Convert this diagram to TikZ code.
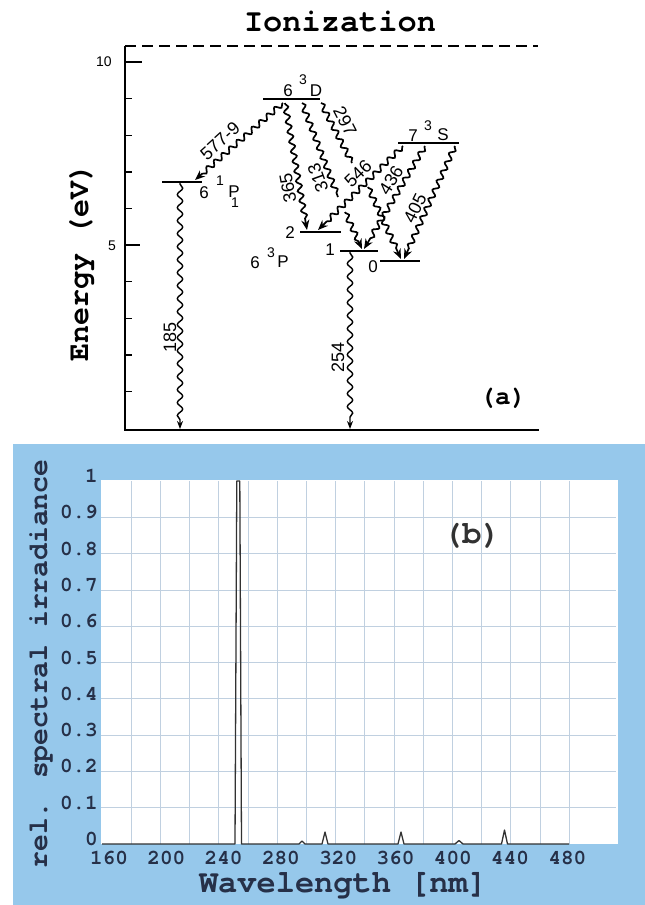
\documentclass[tikz,border=0pt]{standalone}
\usepackage{fontspec}
\setmainfont{Liberation Sans}
\IfFontExistsTF{texgyrecursor-bold.otf}{%
  \newfontfamily\monof{texgyrecursor}[Extension=.otf, UprightFont=*-regular, BoldFont=*-bold]%
}{%
  \newfontfamily\monof{Liberation Mono}%
}
\usetikzlibrary{decorations.pathmorphing,arrows.meta}
\definecolor{skyb}{RGB}{150,200,235}
\definecolor{gridc}{RGB}{192,208,224}
\definecolor{tickc}{RGB}{38,48,72}
\definecolor{specc}{RGB}{50,50,50}
\newcommand{\fsz}[1]{\fontsize{#1}{#1}\selectfont}
\tikzset{
  axisline/.style={line width=1.8pt, line cap=rect},
  levelline/.style={line width=1.9pt},
  wavy/.style={line width=1.7pt, decorate, decoration={snake, amplitude=2.6pt, segment length=10pt, pre length=1pt, post length=8pt}},
  wavyplain/.style={line width=1.7pt, decorate, decoration={snake, amplitude=2.6pt, segment length=10pt}},
  tip/.style={-{Stealth[length=10pt,width=8pt]}},
  lbl/.style={font=\fsz{18}, inner sep=0pt},
  lvl/.style={font=\fsz{17}, inner sep=0pt},
  sup/.style={font=\fsz{14}, inner sep=0pt},
  axn/.style={font=\fsz{14}, inner sep=0pt},
  monolbl/.style={font=\monof\bfseries\fsz{#1}, inner sep=0pt},
  ytk/.style={font=\monof\bfseries\fsz{21}, text=tickc, inner sep=0pt, anchor=east},
  xtk/.style={font=\monof\bfseries\fsz{21}, text=tickc, inner sep=0pt},
}
\begin{document}
\begin{tikzpicture}[x=1pt,y=-1pt]
\useasboundingbox (0,0) rectangle (645,905);
\fill[white] (0,0) rectangle (645,905);

% ================= Panel (a) =================
\node[monolbl=32] (ion) at (340,22) {Ionization};
\draw[line width=1.5pt, dash pattern=on 11pt off 6pt] (125,46) coordinate (ionl) -- (538,46) coordinate (ionr);
\draw[axisline] (125,47) coordinate (atop) -- (125,430) coordinate (aorig) -- (538,430) coordinate (aright);
\foreach \e in {1,2,3,4,6,7,8,9} {
  \draw[line width=1.4pt] (125,428-36.6*\e) -- (132,428-36.6*\e);
}
\draw[line width=1.4pt] (125,62) -- (142,62);
\draw[line width=1.4pt] (125,245) -- (140,245);
\node[axn] (t10) at (104,62) {10};
\node[axn] (t5) at (112,246) {5};
\node[monolbl=30, rotate=90] (ylab) at (82,262) {Energy (eV)};
\node[monolbl=26] (lab_a) at (503,398) {(a)};

% levels
\draw[levelline] (263,99) coordinate (Dl) -- (320,99) coordinate (Dr);
\draw[levelline] (398,143) coordinate (Sl) -- (459,143) coordinate (Sr);
\draw[levelline] (162,182) coordinate (P1sl) -- (202,182) coordinate (P1sr);
\draw[levelline] (300,232) coordinate (P2l) -- (341,232) coordinate (P2r);
\draw[levelline] (340,251) coordinate (P1l) -- (378,251) coordinate (P1r);
\draw[levelline] (380,261) coordinate (P0l) -- (420,261) coordinate (P0r);

% level labels
\node[lvl] (D6) at (288,91) {6};
\node[sup] (D3) at (303,80) {3};
\node[lvl] (DD) at (316,91) {D};
\node[lvl] (S7) at (413,136) {7};
\node[sup] (S3) at (428,126) {3};
\node[lvl] (SS) at (443,135) {S};
\node[lvl] (Ps6) at (204,193) {6};
\node[sup] (Ps1) at (220,181) {1};
\node[lvl] (PsP) at (234,192) {P};
\node[sup] (Psub) at (235,203) {1};
\node[lvl] (P6) at (255,263) {6};
\node[sup] (P3) at (271,253) {3};
\node[lvl] (PP) at (283,262) {P};
\node[lvl] (L2) at (290,233) {2};
\node[lvl] (L1) at (330,250) {1};
\node[lvl] (L0) at (373,267) {0};

% transition end points
\coordinate (a577s) at (283,103); \coordinate (a577e) at (195,180);
\coordinate (a365s) at (285,103); \coordinate (a365e) at (307,230);
\coordinate (a313s) at (302,103); \coordinate (a313m) at (338,197);
\coordinate (a313n) at (345,212); \coordinate (a313e) at (362,249);
\coordinate (a297s) at (321,103); \coordinate (a297m) at (352,163);
\coordinate (a297n) at (368,187); \coordinate (a297e) at (401,259);
\coordinate (a546s) at (403,146); \coordinate (a546e) at (318,230);
\coordinate (a436s) at (425,146); \coordinate (a436e) at (364,249);
\coordinate (a405s) at (455,146); \coordinate (a405e) at (404,259);
\coordinate (a185s) at (180,183); \coordinate (a185e) at (180,429);
\coordinate (a254s) at (350,252); \coordinate (a254e) at (350,429);

\draw[wavy,tip] (a577s) -- (a577e);
\draw[wavy,tip] (a365s) -- (a365e);
\draw[wavyplain] (a313s) -- (a313m);
\draw[wavy,tip] (a313n) -- (a313e);
\draw[wavyplain] (a297s) -- (a297m);
\draw[wavy,tip] (a297n) -- (a297e);
\draw[wavy,tip] (a546s) -- (a546e);
\draw[wavy,tip] (a436s) -- (a436e);
\draw[wavy,tip] (a405s) -- (a405e);
\draw[wavy,-{Stealth[length=8pt,width=6pt]}, line width=1.4pt, decoration={segment length=13pt, amplitude=2.7pt, post length=6pt}] (a185s) -- (a185e);
\draw[wavy,-{Stealth[length=8pt,width=6pt]}, line width=1.4pt, decoration={segment length=13pt, amplitude=2.7pt, post length=6pt}] (a254s) -- (a254e);

% transition labels
\node[lbl, rotate=42] (w577) at (220,141) {577-9};
\node[lbl, rotate=100] (w365) at (288,188) {365};
\node[lbl, rotate=110] (w313) at (318,178) {313};
\node[lbl, rotate=-63] (w297) at (345,121) {297};
\node[lbl, rotate=44] (w546) at (358,174) {546};
\node[lbl, rotate=58] (w436) at (391,180) {436};
\node[lbl, rotate=64] (w405) at (415,208) {405};
\node[lbl, rotate=90] (w185) at (170,337) {185};
\node[lbl, rotate=90] (w254) at (338,357) {254};

% ================= Panel (b) =================
\fill[skyb] (13,444) rectangle (645,905);
\fill[white] (101,480) rectangle (618,844);
\foreach \k in {1,...,9} {
  \draw[gridc, line width=0.8pt] (101,844-36.3*\k) -- (616,844-36.3*\k);
}
\foreach \k in {1,...,16} {
  \draw[gridc, line width=0.8pt] (102+29.2*\k,481) -- (102+29.2*\k,844);
}
% y tick labels
\foreach \v/\t in {0/0,1/0.1,2/0.2,3/0.3,4/0.4,5/0.5,6/0.6,7/0.7,8/0.8,9/0.9,10/1} {
  \node[ytk] at (98,839-36.3*\v) {\t};
}
% x tick labels
\foreach \k/\t in {0/160,1/200,2/240,3/280,4/320,5/360,6/400,7/440,8/480} {
  \node[xtk] at (109+57.3*\k,858) {\t};
}
\node[monolbl=32, text=tickc] (xlab) at (343,886) {Wavelength [nm]};
\node[monolbl=28, text=tickc, rotate=90] (ylab2) at (41,664) {rel. spectral irradiance};
\node[monolbl=32, text=specc] (lab_b) at (472,536) {(b)};

% spectrum
\draw[specc, line width=1.3pt, line join=round] (102,844) -- (235,844) -- (236.8,481) -- (239.8,481) -- (241.5,844)
  -- (299,844) -- (302,841) -- (305,844) -- (322,844) -- (325,832) -- (328,844)
  -- (398,844) -- (401,832) -- (404,844) -- (455,844) -- (459,840.5) -- (463,844)
  -- (501.5,844) -- (504.5,830) -- (507.5,844) -- (569,844);
\end{tikzpicture}
\end{document}
